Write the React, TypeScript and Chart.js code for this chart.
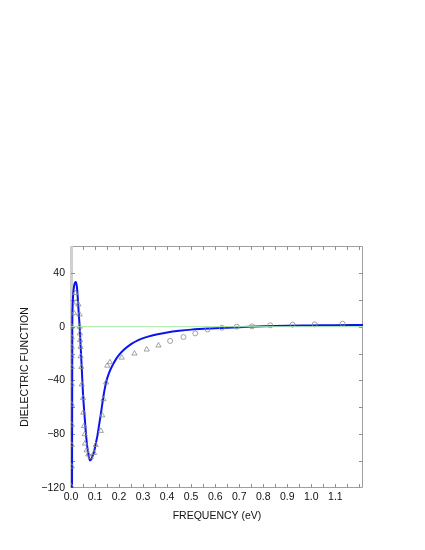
import React, { useEffect, useRef } from 'react';
import { Chart, registerables } from 'chart.js';

Chart.register(...registerables);

// Model curve (blue line)
const curveX = [0.0042, 0.0048, 0.0054, 0.0065, 0.009, 0.013, 0.017, 0.02, 0.023, 0.026, 0.03, 0.033, 0.036, 0.04, 0.045, 0.05, 0.055, 0.061, 0.066, 0.071, 0.075, 0.079, 0.083, 0.088, 0.096, 0.103, 0.11, 0.117, 0.124, 0.131, 0.138, 0.148, 0.158, 0.172, 0.186, 0.2, 0.22, 0.25, 0.28, 0.32, 0.36, 0.4, 0.45, 0.5, 0.6, 0.7, 0.8, 0.9, 1.0, 1.1, 1.215];
const curveY = [-125, -60, 0, 14, 24, 30.5, 32.8, 33.2, 31.5, 27, 16, 8, 0, -14, -32, -50, -63, -77, -87, -93.5, -97.5, -99.5, -99, -97, -93, -87, -81, -73, -65, -56.5, -48.5, -40, -34.5, -29, -24.5, -21, -17.2, -13, -10, -7.4, -5.6, -4.3, -3.1, -2.2, -1.2, -0.4, 0.3, 0.7, 0.9, 1.1, 1.2];

// Measured points (triangles)
const triX = [0.003, 0.003, 0.003, 0.003, 0.003, 0.003, 0.003, 0.003, 0.003, 0.003, 0.002, 0.013, 0.018, 0.021, 0.031, 0.036, 0.036, 0.037, 0.0375, 0.04, 0.04, 0.043, 0.045, 0.05, 0.051, 0.054, 0.057, 0.058, 0.065, 0.072, 0.082, 0.096, 0.103, 0.124, 0.13, 0.135, 0.146, 0.151, 0.162, 0.211, 0.264, 0.315, 0.364];
const triY = [0, -8, -15, -22, -30, -43, -58, -73, -88, -104, -119, 10, 25, 18, 16.5, 9, 0, -5, -10, -15, -22, -30, -43, -53, -64, -74, -80, -87, -92, -95, -97, -94, -88, -77.5, -66, -54, -41.5, -29, -26.5, -23, -20, -17, -14];

// Measured points (circles)
const circX = [0.4125, 0.468, 0.517, 0.568, 0.628, 0.69, 0.753, 0.829, 0.922, 1.014, 1.13];
const circY = [-10.6, -7.7, -5, -2, -0.8, 0, 0.2, 1, 1.5, 1.7, 2.2];

// Zero reference line
const zeroX = [0, 1.215];
const zeroY = [0, 0];

// Axes
const xMin = 0;
const xMax = 1.215;
const yMin = -120;
const yMax = 60;
const xTickMarks = [0, 0.05, 0.1, 0.15, 0.2, 0.25, 0.3, 0.35, 0.4, 0.45, 0.5, 0.55, 0.6, 0.65, 0.7, 0.75, 0.8, 0.85, 0.9, 0.95, 1.0, 1.05, 1.1, 1.15, 1.2];
const yTickMarks = [-120, -100, -80, -60, -40, -20, 0, 20, 40, 60];
const xLabelValues = [0, 0.1, 0.2, 0.3, 0.4, 0.5, 0.6, 0.7, 0.8, 0.9, 1.0, 1.1];
const yLabelValues = [-120, -80, -40, 0, 40];

const toPts = (xs: number[], ys: number[]) => xs.map((x, i) => ({ x, y: ys[i] }));

const framePlugin = {
  id: 'frame',
  beforeDatasetsDraw(chart: any) {
    const { ctx, chartArea, scales } = chart;
    const { left, right, top, bottom } = chartArea;
    const xs = scales.x;
    const ys = scales.y;
    ctx.save();
    ctx.strokeStyle = '#a0a0a0';
    ctx.lineWidth = 1;
    ctx.beginPath();
    ctx.moveTo(left, top + 0.5);
    ctx.lineTo(right - 0.5, top + 0.5);
    ctx.lineTo(right - 0.5, bottom - 0.5);
    ctx.lineTo(left, bottom - 0.5);
    ctx.stroke();
    ctx.fillStyle = '#cfcfcf';
    ctx.fillRect(left - 1, top, 3, bottom - top);
    ctx.strokeStyle = '#909090';
    ctx.beginPath();
    xTickMarks.forEach((v) => {
      const px = Math.round(xs.getPixelForValue(v)) + 0.5;
      if (px <= left + 1 || px >= right - 1) return;
      ctx.moveTo(px, bottom);
      ctx.lineTo(px, bottom - 4);
      ctx.moveTo(px, top);
      ctx.lineTo(px, top + 4);
    });
    yTickMarks.forEach((v) => {
      const py = Math.round(ys.getPixelForValue(v)) + 0.5;
      if (py <= top + 1 || py >= bottom - 1) return;
      ctx.moveTo(left, py);
      ctx.lineTo(left + 4, py);
      ctx.moveTo(right, py);
      ctx.lineTo(right - 4, py);
    });
    ctx.stroke();
    ctx.restore();
  },
};

const near = (v: number, arr: number[]) => arr.some((a) => Math.abs(a - v) < 1e-6);

export default function App() {
  const ref = useRef<HTMLCanvasElement | null>(null);
  useEffect(() => {
    if (!ref.current) return;
    const font = { family: '"Liberation Sans", Arial, Helvetica, sans-serif', size: 10.5 };
    const chart = new Chart(ref.current, {
      type: 'line',
      data: {
        datasets: [
          {
            label: 'zero',
            data: toPts(zeroX, zeroY),
            borderColor: '#a6e6a6',
            borderWidth: 1,
            pointRadius: 0,
            fill: false,
          },
          {
            label: 'triangles',
            data: toPts(triX, triY),
            showLine: false,
            pointStyle: 'triangle',
            pointRadius: 3,
            borderColor: '#8a8a8a',
            backgroundColor: 'rgba(0,0,0,0)',
            pointBorderWidth: 0.8,
          },
          {
            label: 'circles',
            data: toPts(circX, circY),
            showLine: false,
            pointStyle: 'circle',
            pointRadius: 2.5,
            borderColor: '#8a8a8a',
            backgroundColor: 'rgba(0,0,0,0)',
            pointBorderWidth: 0.8,
          },
          {
            label: 'model',
            data: toPts(curveX, curveY),
            borderColor: '#0a14f0',
            borderWidth: 2,
            pointRadius: 0,
            fill: false,
            cubicInterpolationMode: 'monotone',
          },
        ],
      },
      options: {
        animation: false,
        responsive: false,
        devicePixelRatio: 1,
        layout: { padding: { top: 246, right: 62, bottom: 0, left: 0 } },
        plugins: { legend: { display: false }, tooltip: { enabled: false } },
        scales: {
          x: {
            type: 'linear',
            min: xMin,
            max: xMax,
            grid: { display: false, drawTicks: false },
            border: { display: false },
            afterFit: (s: any) => { s.height = 62; },
            afterBuildTicks: (s: any) => { s.ticks = xLabelValues.map((v) => ({ value: v })); },
            ticks: {
              padding: 3,
              color: '#111',
              font,
              maxRotation: 0,
              autoSkip: false,
              callback: (v: any) => (near(Number(v), xLabelValues) ? Number(v).toFixed(1) : ''),
            },
            title: {
              display: true,
              text: 'FREQUENCY (eV)',
              color: '#111',
              font,
              padding: { top: 0, bottom: 28 },
            },
          },
          y: {
            type: 'linear',
            min: yMin,
            max: yMax,
            grid: { display: false, drawTicks: false },
            border: { display: false },
            afterFit: (s: any) => { s.width = 71; },
            afterBuildTicks: (s: any) => { s.ticks = yLabelValues.map((v) => ({ value: v })); },
            ticks: {
              padding: 6,
              color: '#111',
              font,
              autoSkip: false,
              callback: (v: any) => {
                const n = Number(v);
                return n < 0 ? '\u2212' + Math.abs(n) : String(n);
              },
            },
            title: {
              display: true,
              text: 'DIELECTRIC FUNCTION',
              color: '#111',
              font,
              padding: { top: 19, bottom: 0 },
            },
          },
        },
      },
      plugins: [framePlugin],
    } as any);
    return () => chart.destroy();
  }, []);
  return (
    <div style={{ position: 'fixed', left: 0, top: 0, width: 425, height: 550, background: '#fff' }}>
      <canvas ref={ref} width={425} height={550} style={{ width: 425, height: 550, display: 'block' }} />
    </div>
  );
}
